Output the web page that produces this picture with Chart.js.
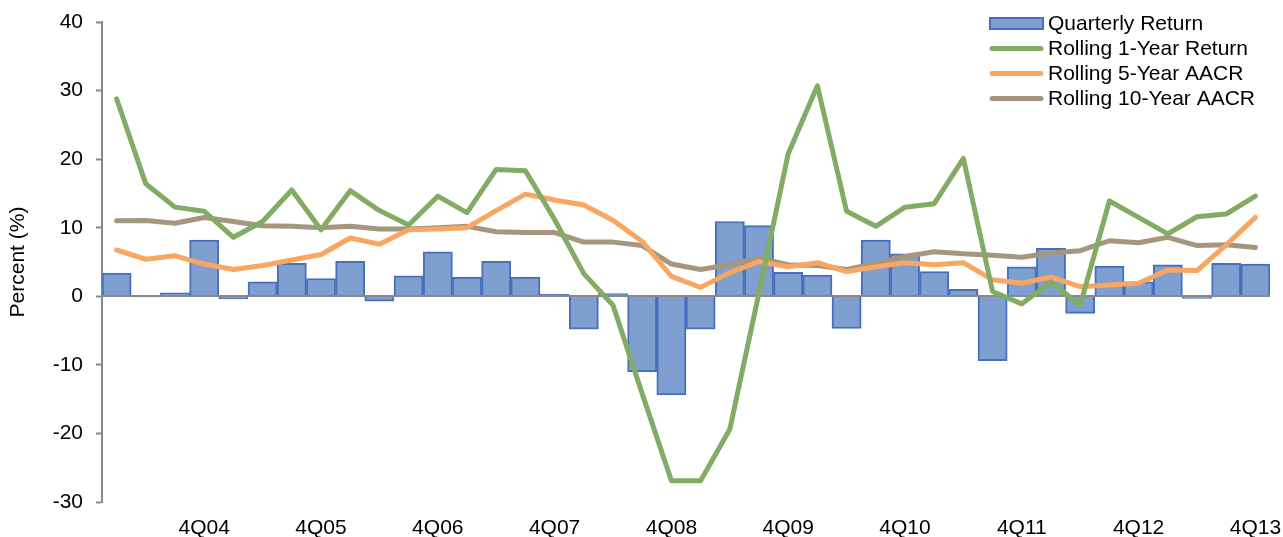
<!DOCTYPE html>
<html>
<head>
<meta charset="utf-8">
<script src="https://cdn.jsdelivr.net/npm/chart.js@4.4.1/dist/chart.umd.min.js"></script>
<style>
  html, body { margin: 0; padding: 0; background: #ffffff; }
  #wrap { width: 1283px; height: 537px; }
</style>
</head>
<body>
<div id="wrap"><canvas id="c" width="1283" height="537"></canvas></div>
<script>
// Quarters 1Q04 .. 4Q13
const quarters = [];
for (let y = 4; y <= 13; y++) {
  for (let q = 1; q <= 4; q++) quarters.push(q + 'Q' + String(y).padStart(2, '0'));
}

const quarterlyReturn = [3.4, -0.1, 0.5, 8.2, -0.4, 2.1, 4.8, 2.6, 5.1, -0.7,
  3.0, 6.5, 2.8, 5.1, 2.8, 0.3, -4.8, 0.4, -11.0, -14.4,
  -4.8, 10.9, 10.3, 3.5, 3.1, -4.7, 8.2, 6.2, 3.6, 1.0,
  -9.4, 4.3, 7.0, -2.5, 4.4, 2.1, 4.6, -0.3, 4.8, 4.7];

const rolling1Year = [28.8, 16.4, 13.0, 12.4, 8.6, 10.9, 15.5, 9.7, 15.4, 12.5,
  10.4, 14.6, 12.2, 18.5, 18.3, 11.2, 3.3, -1.3, -14.2, -26.9,
  -26.9, -19.4, 0.5, 20.8, 30.7, 12.4, 10.2, 13.0, 13.5, 20.1,
  0.7, -1.1, 2.1, -1.3, 13.9, 11.5, 9.1, 11.6, 12.0, 14.6];

const rolling5Year = [6.75, 5.4, 5.9, 4.7, 3.9, 4.5, 5.3, 6.1, 8.5, 7.6,
  9.7, 9.8, 10.0, 12.5, 14.9, 14.05, 13.3, 11.1, 8.0, 2.9,
  1.3, 3.45, 5.05, 4.3, 4.9, 3.6, 4.3, 4.9, 4.6, 4.9,
  2.4, 1.9, 2.8, 1.4, 1.65, 1.9, 3.85, 3.75, 7.5, 11.5];

const rolling10Year = [11.0, 11.05, 10.65, 11.5, 10.9, 10.3, 10.2, 10.0, 10.2, 9.8,
  9.8, 10.0, 10.2, 9.4, 9.3, 9.3, 7.9, 7.9, 7.4, 4.7,
  3.9, 4.6, 5.55, 4.6, 4.5, 3.9, 4.8, 5.8, 6.5, 6.2,
  6.0, 5.7, 6.3, 6.65, 8.1, 7.8, 8.6, 7.4, 7.5, 7.1];

const seriesNames = ['Quarterly Return', 'Rolling 1-Year Return', 'Rolling 5-Year AACR', 'Rolling 10-Year AACR'];

const FONT = '"Liberation Sans", Arial, sans-serif';
const FONT_SIZE = 21;
const AXIS_GREY = '#898989';
const BAR_FILL = '#7f9fd0';
const BAR_EDGE = '#4670bd';
const GREEN = '#82ab64';
const ORANGE = '#f9a662';
const TAUPE = '#a69680';

// zero line drawn right after the bars, beneath the lines
const zeroLine = {
  id: 'zeroLine',
  afterDatasetDraw(chart, args) {
    if (args.index !== 0) return;
    const { ctx, chartArea } = chart;
    const y = Math.round(chart.scales.y.getPixelForValue(0));
    ctx.save();
    ctx.strokeStyle = AXIS_GREY;
    ctx.lineWidth = 2;
    ctx.beginPath();
    ctx.moveTo(chartArea.left, y);
    ctx.lineTo(chartArea.right, y);
    ctx.stroke();
    ctx.restore();
  }
};

// stacked legend in the upper right corner
const sideLegend = {
  id: 'sideLegend',
  afterDraw(chart) {
    const { ctx } = chart;
    const x0 = 990, x1 = 1043, textX = 1048;
    const rows = [23.5, 48.5, 73.5, 98.5];
    ctx.save();
    ctx.font = FONT_SIZE + 'px ' + FONT;
    ctx.textBaseline = 'middle';
    chart.data.datasets.forEach((ds, i) => {
      const cy = rows[i];
      if (ds.type === 'bar') {
        ctx.fillStyle = ds.backgroundColor;
        ctx.fillRect(x0, cy - 5.5, x1 - x0, 11);
        ctx.strokeStyle = ds.borderColor;
        ctx.lineWidth = 2;
        ctx.strokeRect(x0, cy - 5.5, x1 - x0, 11);
      } else {
        ctx.strokeStyle = ds.borderColor;
        ctx.lineWidth = 5;
        ctx.lineCap = 'round';
        ctx.beginPath();
        ctx.moveTo(x0 + 2, cy);
        ctx.lineTo(x1 - 2, cy);
        ctx.stroke();
      }
      ctx.fillStyle = '#000000';
      ctx.fillText(ds.label, textX, cy + 1);
    });
    ctx.restore();
  }
};

const lineStyle = (color) => ({
  type: 'line',
  borderColor: color,
  backgroundColor: color,
  borderWidth: 5,
  pointRadius: 0,
  tension: 0,
  borderJoinStyle: 'round',
  borderCapStyle: 'round',
  fill: false,
  order: 0
});

new Chart(document.getElementById('c'), {
  data: {
    labels: quarters,
    datasets: [
      {
        type: 'bar',
        label: seriesNames[0],
        data: quarterlyReturn,
        backgroundColor: BAR_FILL,
        borderColor: BAR_EDGE,
        borderWidth: 2,
        barPercentage: 1,
        categoryPercentage: 1,
        order: 1
      },
      Object.assign({ label: seriesNames[1], data: rolling1Year }, lineStyle(GREEN)),
      Object.assign({ label: seriesNames[2], data: rolling5Year }, lineStyle(ORANGE)),
      Object.assign({ label: seriesNames[3], data: rolling10Year }, lineStyle(TAUPE))
    ]
  },
  options: {
    responsive: false,
    animation: false,
    devicePixelRatio: 1,
    layout: { padding: { top: 22, right: 13, bottom: 0, left: 0 } },
    plugins: {
      legend: { display: false },
      tooltip: { enabled: false }
    },
    scales: {
      x: {
        grid: { display: false, drawTicks: false },
        border: { display: false },
        ticks: {
          autoSkip: false,
          maxRotation: 0,
          minRotation: 0,
          padding: 14,
          color: '#000000',
          font: { family: FONT, size: FONT_SIZE },
          callback(value, index) {
            const lab = quarters[index];
            return lab.startsWith('4Q') ? lab : '';
          }
        },
        afterFit(scale) {
          scale.height = 35;
          scale.paddingLeft = 0;
          scale.paddingRight = 0;
        }
      },
      y: {
        min: -30,
        max: 40,
        ticks: {
          stepSize: 10,
          padding: 13,
          color: '#000000',
          font: { family: FONT, size: FONT_SIZE }
        },
        grid: {
          drawOnChartArea: false,
          drawTicks: true,
          tickLength: 6,
          tickColor: AXIS_GREY,
          tickWidth: 2
        },
        border: { display: true, color: AXIS_GREY, width: 2 },
        title: {
          display: true,
          text: 'Percent (%)',
          color: '#000000',
          font: { family: FONT, size: FONT_SIZE },
          padding: { top: 6, bottom: 0 }
        },
        afterFit(scale) {
          scale.width = 102;
          scale.paddingTop = 0;
          scale.paddingBottom = 0;
        }
      }
    }
  },
  plugins: [zeroLine, sideLegend]
});
</script>
</body>
</html>
